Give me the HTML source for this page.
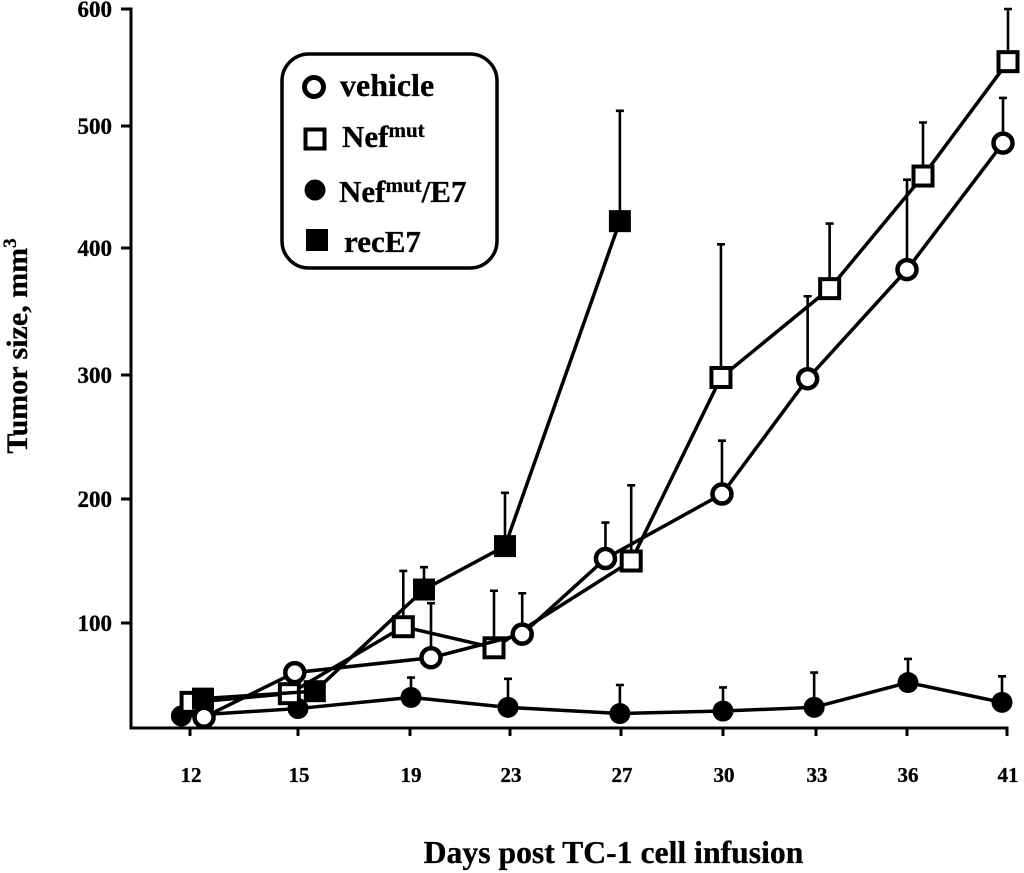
<!DOCTYPE html>
<html>
<head>
<meta charset="utf-8">
<title>Tumor size chart</title>
<style>
html,body{margin:0;padding:0;background:#fff;}
svg{display:block;}
text{font-family:"Liberation Serif",serif;font-weight:bold;fill:#000;stroke:#000;stroke-width:0.3px;}
</style>
</head>
<body>
<svg id="chart" width="1024" height="873" viewBox="0 0 1024 873" xmlns="http://www.w3.org/2000/svg">
  <rect x="0" y="0" width="1024" height="873" fill="#fff"/>
  <g id="plot"></g>
  <text transform="translate(27,346) rotate(-90)" text-anchor="middle" font-size="30">Tumor size, mm<tspan font-size="19" dy="-11">3</tspan></text>
  <text x="613.500" y="863" text-anchor="middle" font-size="31.700">Days post TC-1 cell infusion</text>
  <g>
    <rect x="282" y="54" width="215" height="214" rx="27" ry="27" fill="#fff" stroke="#000" stroke-width="3.5"/>
    <circle cx="314" cy="87" r="9.5" fill="#fff" stroke="#000" stroke-width="5"/>
    <text x="340" y="96" font-size="32">vehicle</text>
    <rect x="305.500" y="129.500" width="19" height="19" fill="#fff" stroke="#000" stroke-width="4"/>
    <text x="342" y="147" font-size="31">Nef<tspan font-size="21" dy="-10">mut</tspan></text>
    <circle cx="315" cy="190" r="10.500" fill="#000"/>
    <text x="339" y="202" font-size="31">Nef<tspan font-size="21" dy="-10">mut</tspan><tspan dy="10">/E7</tspan></text>
    <rect x="306" y="229" width="22" height="22" fill="#000"/>
    <text x="344" y="252" font-size="31">recE7</text>
  </g>
</svg>
<script>
// Chart data
const categories = ['12', '15', '19', '23', '27', '30', '33', '36', '41'];
const yTicks = [100, 200, 300, 400, 500, 600];

// Horizontal placement of each point, in category units (the markers are dodged)
const vehicleSlots = [0.13, 0.97, 2.21, 3.11, 3.86, 4.99, 5.91, 7.00, 7.96];
const nefSlots = [0.01, 0.92, 1.94, 2.84, 4.10, 4.98, 6.15, 7.16, 8.01];
const nefE7Slots = [-0.08, 1.00, 2.01, 2.98, 3.99, 5.00, 5.98, 7.01, 7.95];
const recE7Slots = [0.12, 1.15, 2.14, 2.95, 3.99];

// Mean tumor size, mm3
const vehicleValues = [24, 60, 72, 91, 152, 204, 297, 383, 486];
const nefValues = [36, 43, 97, 80, 150, 298, 368, 459, 555];
const nefE7Values = [25, 31, 40, 32, 27, 29, 32, 52, 36];
const recE7Values = [39, 45, 127, 162, 422];

// Top of each error bar, mm3 (null = no bar drawn)
const vehicleErrorTops = [null, null, 116, 124, 181, 247, 362, 456, 524];
const nefErrorTops = [null, null, 142, 126, 211, 403, 420, 503, 600];
const nefE7ErrorTops = [null, null, 56, 55, 50, 48, 60, 71, 57];
const recE7ErrorTops = [null, null, 145, 205, 513];

const NS = 'http://www.w3.org/2000/svg';
const plot = document.getElementById('plot');

// Hand-drawn axes: spacing between neighbouring ticks is uneven
function xScale(u) {
  const gaps = [108, 112, 100, 111, 102, 93, 91, 100];
  let pos = 190;
  if (u < 0) return pos + u * gaps[0];
  let i = 0;
  while (i < gaps.length - 1 && u >= i + 1) {
    pos += gaps[i];
    i++;
  }
  return pos + (u - i) * gaps[i];
}
function yScale(v) {
  const gaps = [124, 124, 127, 122, 117];
  let pos = 623;
  const u = (v - 100) / 100;
  if (u < 0) return pos - u * gaps[0];
  let i = 0;
  while (i < gaps.length - 1 && u >= i + 1) {
    pos -= gaps[i];
    i++;
  }
  return pos - (u - i) * gaps[i];
}

function make(tag, attrs, parent) {
  const el = document.createElementNS(NS, tag);
  Object.keys(attrs).forEach(function (k) { el.setAttribute(k, attrs[k]); });
  (parent || plot).appendChild(el);
  return el;
}

// Axes
const axisY = make('line', { x1: 131, x2: 131, y1: yScale(600) - 1.5, y2: 729.5, stroke: '#000', 'stroke-width': 3 });


const axisX = make('line', { x1: 129.5, x2: 1008.5, y1: 728, y2: 728, stroke: '#000', 'stroke-width': 3 });



yTicks.forEach(function (t) {
  const yy = yScale(t);
  const tick = make('line', { x1: 121, x2: 131, y1: yy, y2: yy, stroke: '#000', 'stroke-width': 3 });
  
  
  const label = make('text', { x: 112, y: yy + 8, 'text-anchor': 'end', 'font-size': 23 });
  label.textContent = String(t);
  
  
});

categories.forEach(function (c, i) {
  const xx = xScale(i);
  const tick = make('line', { x1: xx, x2: xx, y1: 728, y2: 736, stroke: '#000', 'stroke-width': 3 });
  
  
  const label = make('text', { x: xx + 1, y: 782, 'text-anchor': 'middle', 'font-size': 21 });
  label.textContent = c;
  
  
});

function drawSeries(name, slots, values, tops, shape) {
  const group = make('g', {});
  
  

  tops.forEach(function (top, i) {
    if (top === null) return;
    const xx = xScale(slots[i]);
    const bar = make('path', {
      d: 'M' + xx + ' ' + yScale(values[i]) + 'V' + yScale(top) + 'M' + (xx - 4) + ' ' + yScale(top) + 'H' + (xx + 4),
      fill: 'none', stroke: '#000', 'stroke-width': 2.6
    }, group);
    
    
  });

  const pts = values.map(function (v, i) { return xScale(slots[i]) + ',' + yScale(v); }).join(' ');
  const line = make('polyline', { points: pts, fill: 'none', stroke: '#000', 'stroke-width': 3.5 }, group);
  
  

  values.forEach(function (v, i) {
    const xx = xScale(slots[i]);
    const yy = yScale(v);
    let m;
    if (shape === 'open-circle') {
      m = make('circle', { cx: xx, cy: yy, r: 9.5, fill: '#fff', stroke: '#000', 'stroke-width': 4.5 }, group);
    } else if (shape === 'filled-circle') {
      m = make('circle', { cx: xx, cy: yy, r: 10.5, fill: '#000' }, group);
    } else if (shape === 'open-square') {
      m = make('rect', { x: xx - 9.5, y: yy - 9.5, width: 19, height: 19, fill: '#fff', stroke: '#000', 'stroke-width': 4 }, group);
    } else {
      m = make('rect', { x: xx - 11, y: yy - 11, width: 22, height: 22, fill: '#000' }, group);
    }
    
    
  });
}

drawSeries('nef-mut-e7', nefE7Slots, nefE7Values, nefE7ErrorTops, 'filled-circle');
drawSeries('nef-mut', nefSlots, nefValues, nefErrorTops, 'open-square');
drawSeries('rece7', recE7Slots, recE7Values, recE7ErrorTops, 'filled-square');
drawSeries('vehicle', vehicleSlots, vehicleValues, vehicleErrorTops, 'open-circle');
</script>
</body>
</html>
